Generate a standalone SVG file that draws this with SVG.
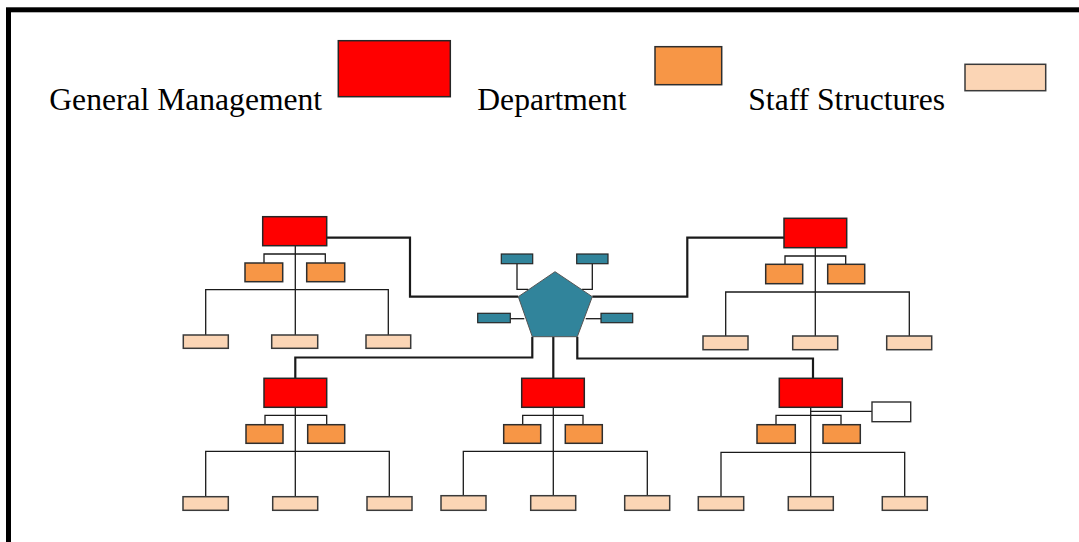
<svg xmlns="http://www.w3.org/2000/svg" width="1079" height="542" viewBox="0 0 1079 542">
  <style>
    .frame { fill: #ffffff; stroke: #000000; stroke-width: 5; }
    .legend { font-family: "Liberation Serif", "Times New Roman", serif; font-size: 31.6px; fill: #000000; }
    .gm { fill: #ff0000; stroke: #262626; stroke-width: 1.5; }
    .dept { fill: #f79646; stroke: #2e2e2e; stroke-width: 1.5; }
    .staff { fill: #fbd5b5; stroke: #3a3a3a; stroke-width: 1.5; }
    .hub { fill: #31849b; stroke: #555555; stroke-width: 1; }
    .sat { fill: #31849b; stroke: #262626; stroke-width: 1.2; }
    .blank { fill: #ffffff; stroke: #2e2e2e; stroke-width: 1.4; }
    .main { fill: none; stroke: #1a1a1a; stroke-width: 2.2; }
    .thin { fill: none; stroke: #1a1a1a; stroke-width: 1.3; }
  </style>

  <rect class="frame" x="8.5" y="9.8" width="1100" height="600"/>

  <!-- legend -->
  <g id="legend">
    <text class="legend" x="49.3" y="110">General Management</text>
    <rect class="gm" x="338.3" y="40.7" width="112" height="56"/>
    <text class="legend" x="477.3" y="110">Department</text>
    <rect class="dept" x="655" y="46.7" width="66.7" height="38"/>
    <text class="legend" x="748.3" y="110">Staff Structures</text>
    <rect class="staff" x="965" y="64.3" width="80.7" height="26.4"/>
  </g>

  <!-- connectors -->
  <g id="connectors">
    <!-- hub to top trees -->
    <polyline class="main" points="326.7,237.7 410,237.7 410,296.7 518.3,296.7"/>
    <polyline class="main" points="784,237.7 687.3,237.7 687.3,296.7 592.3,296.7"/>
    <!-- hub to bottom trees -->
    <polyline class="main" points="532.3,336.7 532.3,357.5 295.3,357.5 295.3,378.3"/>
    <line class="main" x1="553.3" y1="336.7" x2="553.3" y2="378.3"/>
    <polyline class="main" points="577.3,336.7 577.3,358.5 813,358.5 813,378.3"/>
    <!-- hub satellites -->
    <polyline class="thin" points="517,263.7 517,289.3 528.3,289.3"/>
    <polyline class="thin" points="592.3,263.7 592.3,289.3 581.7,289.3"/>
    <line class="thin" x1="510.3" y1="318.7" x2="524.3" y2="318.7"/>
    <line class="thin" x1="585.7" y1="318.7" x2="601" y2="318.7"/>

    <!-- top-left tree -->
    <line class="thin" x1="295.3" y1="245.7" x2="295.3" y2="335"/>
    <polyline class="thin" points="264,263 264,254 325.3,254 325.3,263"/>
    <polyline class="thin" points="205.7,335 205.7,289.7 388.3,289.7 388.3,335"/>

    <!-- top-right tree -->
    <line class="thin" x1="815.3" y1="247.7" x2="815.3" y2="336"/>
    <polyline class="thin" points="785,264.3 785,256 845.7,256 845.7,264.3"/>
    <polyline class="thin" points="725.7,336 725.7,292 909.3,292 909.3,336"/>

    <!-- bottom-left tree -->
    <line class="thin" x1="295.3" y1="407.3" x2="295.3" y2="496.7"/>
    <polyline class="thin" points="265,424.7 265,415.3 326.7,415.3 326.7,424.7"/>
    <polyline class="thin" points="205.7,496.7 205.7,451.3 389.3,451.3 389.3,496.7"/>

    <!-- bottom-centre tree -->
    <line class="thin" x1="553.3" y1="407.3" x2="553.3" y2="495.7"/>
    <polyline class="thin" points="522.7,424.7 522.7,415.3 583,415.3 583,424.7"/>
    <polyline class="thin" points="463.3,495.7 463.3,451.3 647.3,451.3 647.3,495.7"/>

    <!-- bottom-right tree -->
    <line class="thin" x1="810.7" y1="407.3" x2="810.7" y2="496.7"/>
    <line class="thin" x1="810.7" y1="411.3" x2="872" y2="411.3"/>
    <polyline class="thin" points="776,424.7 776,415.3 841,415.3 841,424.7"/>
    <polyline class="thin" points="721,496.7 721,452.3 904.7,452.3 904.7,496.7"/>
  </g>

  <!-- central hub -->
  <g id="hub">
    <polygon class="hub" points="555,271.7 592.3,296.7 577.3,336.7 532.3,336.7 518.3,296.7"/>
  </g>
  <g id="hub-sat-tl"><rect class="sat" x="501.3" y="254" width="31.4" height="9.7"/></g>
  <g id="hub-sat-tr"><rect class="sat" x="576.7" y="254" width="31.3" height="9.7"/></g>
  <g id="hub-sat-l"><rect class="sat" x="477.7" y="313.3" width="32.6" height="9.4"/></g>
  <g id="hub-sat-r"><rect class="sat" x="601" y="313.3" width="31.7" height="9.4"/></g>

  <!-- top-left tree -->
  <g id="tl-gm"><rect class="gm" x="262.7" y="216.7" width="64" height="29"/></g>
  <g id="tl-dept-1"><rect class="dept" x="245" y="263" width="37.7" height="18.7"/></g>
  <g id="tl-dept-2"><rect class="dept" x="306.7" y="263" width="38" height="18.7"/></g>
  <g id="tl-staff-1"><rect class="staff" x="183.3" y="335" width="45" height="13.3"/></g>
  <g id="tl-staff-2"><rect class="staff" x="271.7" y="335" width="46" height="13.3"/></g>
  <g id="tl-staff-3"><rect class="staff" x="366" y="335" width="44.7" height="13.3"/></g>

  <!-- top-right tree -->
  <g id="tr-gm"><rect class="gm" x="784" y="218.3" width="62.7" height="29.4"/></g>
  <g id="tr-dept-1"><rect class="dept" x="765.7" y="264.3" width="37" height="19.4"/></g>
  <g id="tr-dept-2"><rect class="dept" x="827.7" y="264.3" width="37" height="19.4"/></g>
  <g id="tr-staff-1"><rect class="staff" x="703" y="336" width="45" height="13.7"/></g>
  <g id="tr-staff-2"><rect class="staff" x="792.7" y="336" width="45" height="13.7"/></g>
  <g id="tr-staff-3"><rect class="staff" x="886.7" y="336" width="45" height="13.7"/></g>

  <!-- bottom-left tree -->
  <g id="bl-gm"><rect class="gm" x="264" y="378.3" width="62.7" height="29"/></g>
  <g id="bl-dept-1"><rect class="dept" x="246" y="424.7" width="37" height="18.6"/></g>
  <g id="bl-dept-2"><rect class="dept" x="307.7" y="424.7" width="37" height="18.6"/></g>
  <g id="bl-staff-1"><rect class="staff" x="183" y="496.7" width="45.3" height="13.6"/></g>
  <g id="bl-staff-2"><rect class="staff" x="272.7" y="496.7" width="45" height="13.6"/></g>
  <g id="bl-staff-3"><rect class="staff" x="367" y="496.7" width="45" height="13.6"/></g>

  <!-- bottom-centre tree -->
  <g id="bc-gm"><rect class="gm" x="521.7" y="378.3" width="62.6" height="29"/></g>
  <g id="bc-dept-1"><rect class="dept" x="503.7" y="424.7" width="37" height="18.6"/></g>
  <g id="bc-dept-2"><rect class="dept" x="565.3" y="424.7" width="37" height="18.6"/></g>
  <g id="bc-staff-1"><rect class="staff" x="441" y="495.7" width="45" height="14.6"/></g>
  <g id="bc-staff-2"><rect class="staff" x="530.7" y="495.7" width="45" height="14.6"/></g>
  <g id="bc-staff-3"><rect class="staff" x="624.7" y="495.7" width="45" height="14.6"/></g>

  <!-- bottom-right tree -->
  <g id="br-gm"><rect class="gm" x="779.3" y="378.3" width="63" height="29"/></g>
  <g id="br-extra"><rect class="blank" x="872" y="402" width="38.7" height="19.7"/></g>
  <g id="br-dept-1"><rect class="dept" x="757" y="424.7" width="38.3" height="18.6"/></g>
  <g id="br-dept-2"><rect class="dept" x="823" y="424.7" width="37.3" height="18.6"/></g>
  <g id="br-staff-1"><rect class="staff" x="698.3" y="496.7" width="45.4" height="13.6"/></g>
  <g id="br-staff-2"><rect class="staff" x="788.3" y="496.7" width="45" height="13.6"/></g>
  <g id="br-staff-3"><rect class="staff" x="882.3" y="496.7" width="45" height="13.6"/></g>
</svg>
